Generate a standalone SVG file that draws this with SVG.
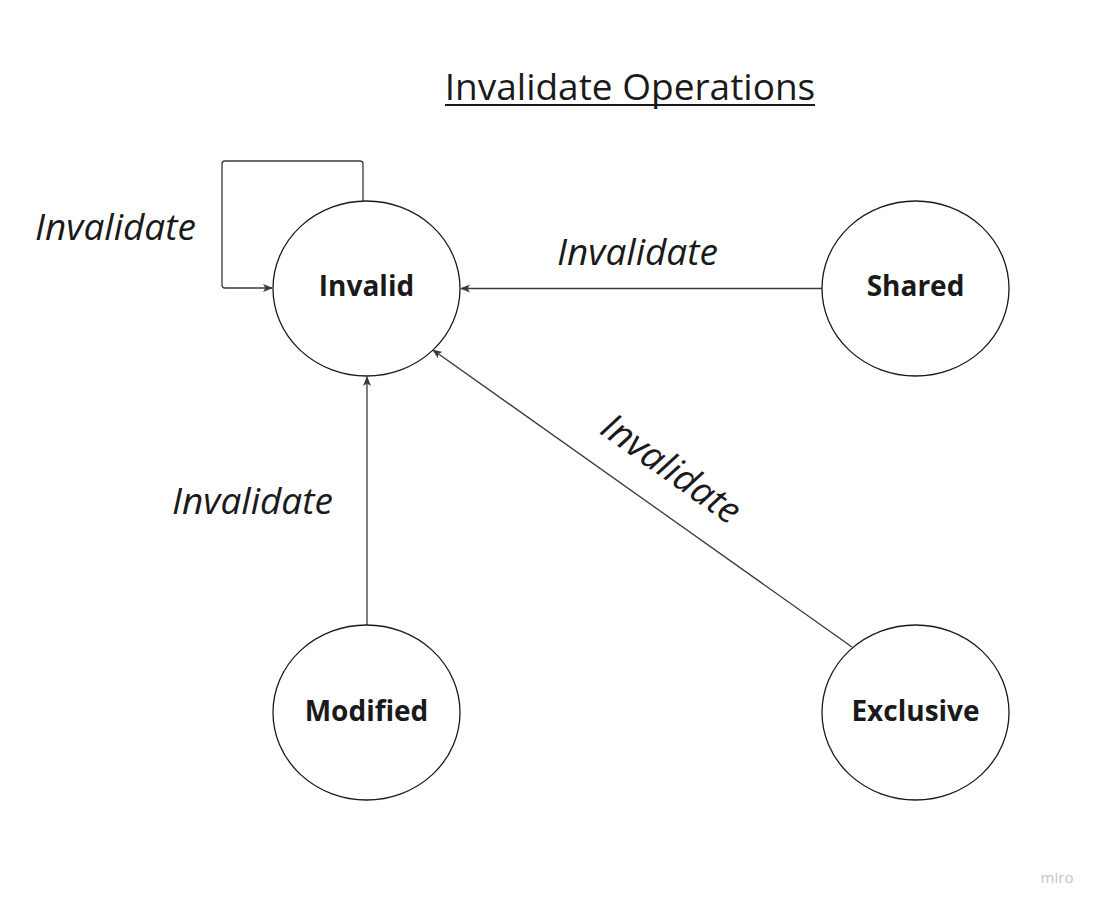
<svg xmlns="http://www.w3.org/2000/svg" width="1100" height="908" viewBox="0 0 1100 908">
<style>
.node{fill:#fff;stroke:#1a1a1a;stroke-width:1.3}
.nl{font-family:"Open Sans","Liberation Sans",sans-serif;font-weight:bold;font-size:28px;fill:#1a1a1a;text-anchor:middle}
.el{font-family:"Open Sans","Liberation Sans",sans-serif;font-style:italic;font-size:37px;fill:#1a1a1a}
.conn{fill:none;stroke:#3a3a3a;stroke-width:1.3}
</style>
<defs>
<marker id="ah" viewBox="0 0 10 10" refX="9" refY="5" markerWidth="10" markerHeight="10" markerUnits="userSpaceOnUse" orient="auto">
<path d="M0,1 L10,5 L0,9 L2.5,5 Z" fill="#3a3a3a"/>
</marker>
</defs>
<rect width="1100" height="908" fill="#fff"/>
<text x="630" y="100" font-family="'Open Sans','Liberation Sans',sans-serif" font-size="37" fill="#1a1a1a" text-anchor="middle">Invalidate Operations</text>
<line x1="445" y1="105" x2="815" y2="105" stroke="#1a1a1a" stroke-width="2"/>
<g id="connectors">
<path class="conn" d="M363,201 V164 Q363,161 360,161 H225 Q222,161 222,164 V285 Q222,288 225,288 H272" marker-end="url(#ah)"/>
<line class="conn" x1="822" y1="288.5" x2="461" y2="288.5" marker-end="url(#ah)"/>
<line class="conn" x1="367" y1="625" x2="367" y2="377" marker-end="url(#ah)"/>
<line class="conn" x1="852" y1="647" x2="433" y2="350" marker-end="url(#ah)"/>
<text class="el" x="35" y="240">Invalidate</text>
<text class="el" x="557" y="265">Invalidate</text>
<text class="el" x="172" y="514">Invalidate</text>
<text class="el" x="0" y="0" text-anchor="middle" transform="translate(664,479) rotate(35.3)">Invalidate</text>
</g>
<g id="invalid"><ellipse class="node" cx="366.5" cy="288.5" rx="93.5" ry="87.5"/><text class="nl" x="366.5" y="296">Invalid</text></g>
<g id="shared"><ellipse class="node" cx="915.5" cy="288.5" rx="93.5" ry="87.5"/><text class="nl" x="915.5" y="296">Shared</text></g>
<g id="modified"><ellipse class="node" cx="366.5" cy="712.5" rx="93.5" ry="87.5"/><text class="nl" x="366.5" y="721">Modified</text></g>
<g id="exclusive"><ellipse class="node" cx="915.5" cy="712.5" rx="93.5" ry="87.5"/><text class="nl" x="915.5" y="721">Exclusive</text></g>
<text x="1057" y="883" font-family="'Open Sans','Liberation Sans',sans-serif" font-size="15" fill="#c4c4c4" text-anchor="middle">miro</text>
</svg>
